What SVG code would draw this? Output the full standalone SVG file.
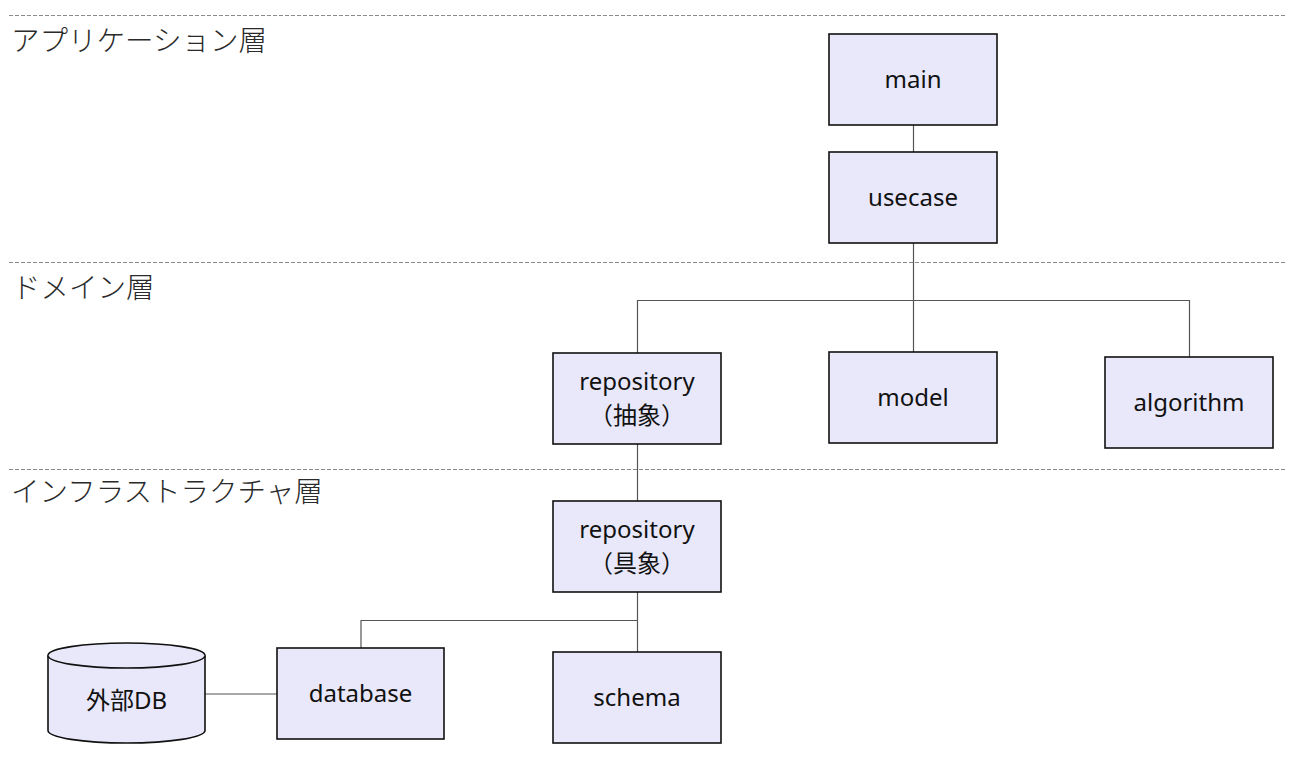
<svg xmlns="http://www.w3.org/2000/svg" width="1303" height="765" viewBox="0 0 1303 765">
<style>
.layer{stroke:#8a8a8a;stroke-width:1.2;stroke-dasharray:4 2;fill:none}
.lt{font-family:"Noto Sans CJK JP","Noto Sans",sans-serif;font-size:28.5px;font-weight:300;fill:#2a2a2a}
.box{fill:#E8E8FA;stroke:#111;stroke-width:1.6}
.t{font-family:"Noto Sans","Noto Sans CJK JP",sans-serif;font-size:24px;fill:#111;text-anchor:middle}
.c{stroke:#555;stroke-width:1.2;fill:none}
</style>
<rect width="1303" height="765" fill="#fff"/>
<g id="layers">
<line class="layer" x1="9" y1="15.5" x2="1285" y2="15.5"/>
<line class="layer" x1="9" y1="262.5" x2="1285" y2="262.5"/>
<line class="layer" x1="9" y1="469.5" x2="1285" y2="469.5"/>
<text class="lt" x="11" y="50.5">アプリケーション層</text>
<text class="lt" x="12" y="297.5">ドメイン層</text>
<text class="lt" x="11" y="501.5">インフラストラクチャ層</text>
</g>
<g id="connectors">
<path class="c" d="M913.5 125V152"/>
<path class="c" d="M913.5 243V352"/>
<path class="c" d="M637.5 353V300.5H1189.5V357"/>
<path class="c" d="M637.5 444V501"/>
<path class="c" d="M637.5 592V652"/>
<path class="c" d="M361 648V620.5H637.5"/>
<path class="c" d="M205 694H277"/>
</g>
<g id="main"><rect class="box" x="829" y="34" width="168" height="91"/><text class="t" x="913" y="88">main</text></g>
<g id="usecase"><rect class="box" x="829" y="152" width="168" height="91"/><text class="t" x="913" y="206">usecase</text></g>
<g id="repository-abstract"><rect class="box" x="553" y="353" width="168" height="91"/><text class="t" x="637" y="390">repository</text><text class="t" x="637" y="424">（抽象）</text></g>
<g id="model"><rect class="box" x="829" y="352" width="168" height="91"/><text class="t" x="913" y="406">model</text></g>
<g id="algorithm"><rect class="box" x="1105" y="357" width="168" height="91"/><text class="t" x="1189" y="411">algorithm</text></g>
<g id="repository-concrete"><rect class="box" x="553" y="501" width="168" height="91"/><text class="t" x="637" y="538">repository</text><text class="t" x="637" y="572">（具象）</text></g>
<g id="database"><rect class="box" x="277" y="648" width="167" height="91"/><text class="t" x="360.5" y="702">database</text></g>
<g id="schema"><rect class="box" x="553" y="652" width="168" height="91"/><text class="t" x="637" y="706">schema</text></g>
<g id="external-db">
<path class="box" d="M48 655.5A78.5 12.5 0 0 1 205 655.5V730.5A78.5 12.5 0 0 1 48 730.5Z"/>
<path class="box" d="M48 655.5A78.5 12.5 0 0 0 205 655.5" fill="none"/>
<text class="t" x="126.5" y="709">外部DB</text>
</g>
</svg>
